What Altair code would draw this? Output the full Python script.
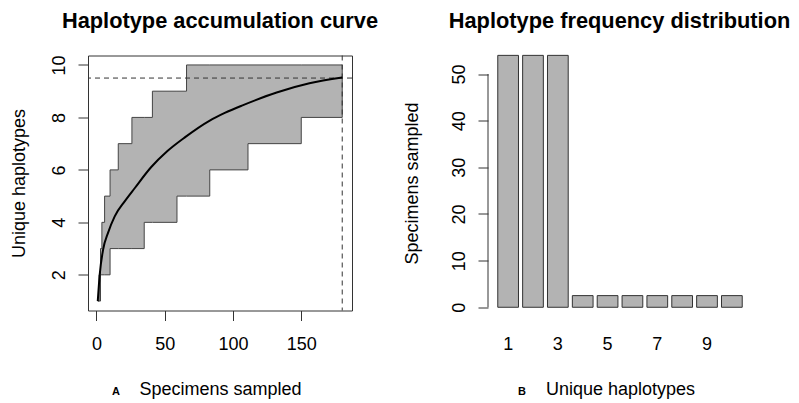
import altair as alt
import pandas as pd

FONT = "Liberation Sans"

# ---------------- Panel A data: haplotype accumulation ----------------
mean_x = [1, 2.4, 4.9, 8.5, 13.4, 20.7, 28, 40, 52, 65, 83, 94, 107, 132, 156, 180]
mean_y = [1.0, 2.0, 2.96, 3.6, 4.23, 4.8, 5.3, 6.1, 6.72, 7.25, 7.88, 8.17, 8.46, 8.95, 9.3, 9.52]

upper_start = [1, 2, 3, 4, 6, 10, 16, 26, 41, 66]
upper_value = [1, 2, 3, 4, 5, 6, 7, 8, 9, 10]
lower_start = [1, 3, 10, 35, 59, 83, 111, 150]
lower_value = [1, 2, 3, 4, 5, 6, 7, 8]
x_max = 180
asymptote = 9.5

# ---------------- Panel B data: haplotype frequencies ----------------
haplotypes = [1, 2, 3, 4, 5, 6, 7, 8, 9, 10]
frequencies = [54, 54, 54, 2.5, 2.5, 2.5, 2.5, 2.5, 2.5, 2.5]

titles = ["Haplotype accumulation curve", "Haplotype frequency distribution"]
tags = ["A", "B"]


def step_at(starts, values, x):
    v = values[0]
    for s, val in zip(starts, values):
        if s <= x:
            v = val
    return v


xs = sorted(set(upper_start) | set(lower_start) | {x_max})
env = pd.DataFrame({
    "x": xs,
    "upper": [step_at(upper_start, upper_value, x) for x in xs],
    "lower": [step_at(lower_start, lower_value, x) for x in xs],
})
mean_df = pd.DataFrame({"x": mean_x, "y": mean_y})
freq_df = pd.DataFrame({"hap": haplotypes, "count": frequencies})
one = pd.DataFrame({"v": [0]})

W, H = 264, 255
DARK = "#333333"
FILL = "#b3b3b3"


def text_layer(txt, x, y, size, weight):
    return alt.Chart(pd.DataFrame({"t": [txt]})).mark_text(
        font=FONT, fontSize=size, fontWeight=weight, color="black",
        align="center", baseline="alphabetic",
    ).encode(text="t:N", x=alt.value(x), y=alt.value(y))


xs_a = alt.Scale(domain=[-6.16, 187.16], nice=False, zero=False)
ys_a = alt.Scale(domain=[0.64, 10.36], nice=False, zero=False)

x_axis_a = alt.Axis(
    values=[0, 50, 100, 150], title="Specimens sampled", domain=False, grid=False,
    tickSize=10, tickColor=DARK, labelPadding=15, labelFontSize=18, labelFont=FONT,
    labelColor="black", labelFlush=False, labelOverlap=False,
    titleFont=FONT, titleFontSize=18, titleFontWeight="normal", titleColor="black",
    titleX=132, titleY=83.8, titleAlign="center", titleBaseline="alphabetic",
)
y_axis_a = alt.Axis(
    values=[2, 4, 6, 8, 10], title="Unique haplotypes", domain=False, grid=False,
    tickSize=10, tickColor=DARK, labelPadding=10, labelFontSize=18, labelFont=FONT,
    labelColor="black", labelAngle=270, labelAlign="center", labelBaseline="bottom",
    labelFlush=False, labelOverlap=False,
    titleFont=FONT, titleFontSize=18, titleFontWeight="normal", titleColor="black",
    titleAngle=270, titleX=-63.5, titleY=127.5, titleAlign="center", titleBaseline="alphabetic",
)

band = alt.Chart(env).mark_area(
    interpolate="step-after", color=FILL, stroke="#444444", strokeWidth=1
).encode(
    x=alt.X("x:Q", scale=xs_a, axis=x_axis_a),
    y=alt.Y("upper:Q", scale=ys_a, axis=y_axis_a),
    y2="lower:Q",
)

hline = alt.Chart(one).mark_rule(color=DARK, strokeDash=[5, 4], strokeWidth=1).encode(
    y=alt.datum(asymptote)
)
vline = alt.Chart(one).mark_rule(color=DARK, strokeDash=[5, 4], strokeWidth=1).encode(
    x=alt.datum(x_max)
)
curve = alt.Chart(mean_df).mark_line(color="black", strokeWidth=2, interpolate="monotone").encode(
    x="x:Q", y="y:Q"
)

left = alt.layer(
    band, hline, vline, curve,
    text_layer(tags[0], 27.9, 339.5, 11, "bold"),
    text_layer(titles[0], 132, -27.5, 21.8, "bold"),
).properties(
    width=W, height=H,
    view=alt.ViewBackground(stroke=DARK, strokeWidth=1),
)

# ---------------- Panel B ----------------
x_axis_b = alt.Axis(
    values=[1, 3, 5, 7, 9], title="Unique haplotypes", domain=False, ticks=False, tickSize=0,
    grid=False, labelAngle=0, labelPadding=25, labelFontSize=18, labelFont=FONT,
    labelColor="black",
    titleFont=FONT, titleFontSize=18, titleFontWeight="normal", titleColor="black",
    titleX=132, titleY=83.8, titleAlign="center", titleBaseline="alphabetic",
)
y_axis_b = alt.Axis(
    values=[0, 10, 20, 30, 40, 50], title="Specimens sampled", domain=False, grid=False,
    tickSize=10, tickColor=DARK, labelPadding=10, labelFontSize=18, labelFont=FONT,
    labelColor="black", labelAngle=270, labelAlign="center", labelBaseline="bottom",
    labelFlush=False, labelOverlap=False,
    titleFont=FONT, titleFontSize=18, titleFontWeight="normal", titleColor="black",
    titleAngle=270, titleX=-70.3, titleY=127.5, titleAlign="center", titleBaseline="alphabetic",
)
ys_b = alt.Scale(domain=[-0.69, 53.97], nice=False, zero=False)

bars = alt.Chart(freq_df).mark_bar(color=FILL, stroke=DARK, strokeWidth=1).encode(
    x=alt.X("hap:O", scale=alt.Scale(paddingInner=0.1667, paddingOuter=0.393), axis=x_axis_b),
    y=alt.Y("count:Q", scale=ys_b, axis=y_axis_b),
    y2=alt.datum(0),
)
yline_b = alt.Chart(one).mark_rule(color=DARK, strokeWidth=1).encode(
    x=alt.value(0), y=alt.datum(0), y2=alt.datum(50)
)

right = alt.layer(
    bars, yline_b,
    text_layer(tags[1], 33.9, 339.5, 11, "bold"),
    text_layer(titles[1], 131.5, -27.5, 21.8, "bold"),
).properties(
    width=W, height=H,
    view=alt.ViewBackground(stroke="transparent"),
)

chart = alt.hconcat(left, right, spacing=136, bounds="flush").properties(
    autosize=alt.AutoSizeParams(type="none"),
    padding={"left": 80, "top": 47.5, "right": 703, "bottom": 340},
    background="white",
).configure(font=FONT).configure_view(stroke="transparent")

chart.save("out.html", embed_options={"renderer": "svg", "actions": False})
